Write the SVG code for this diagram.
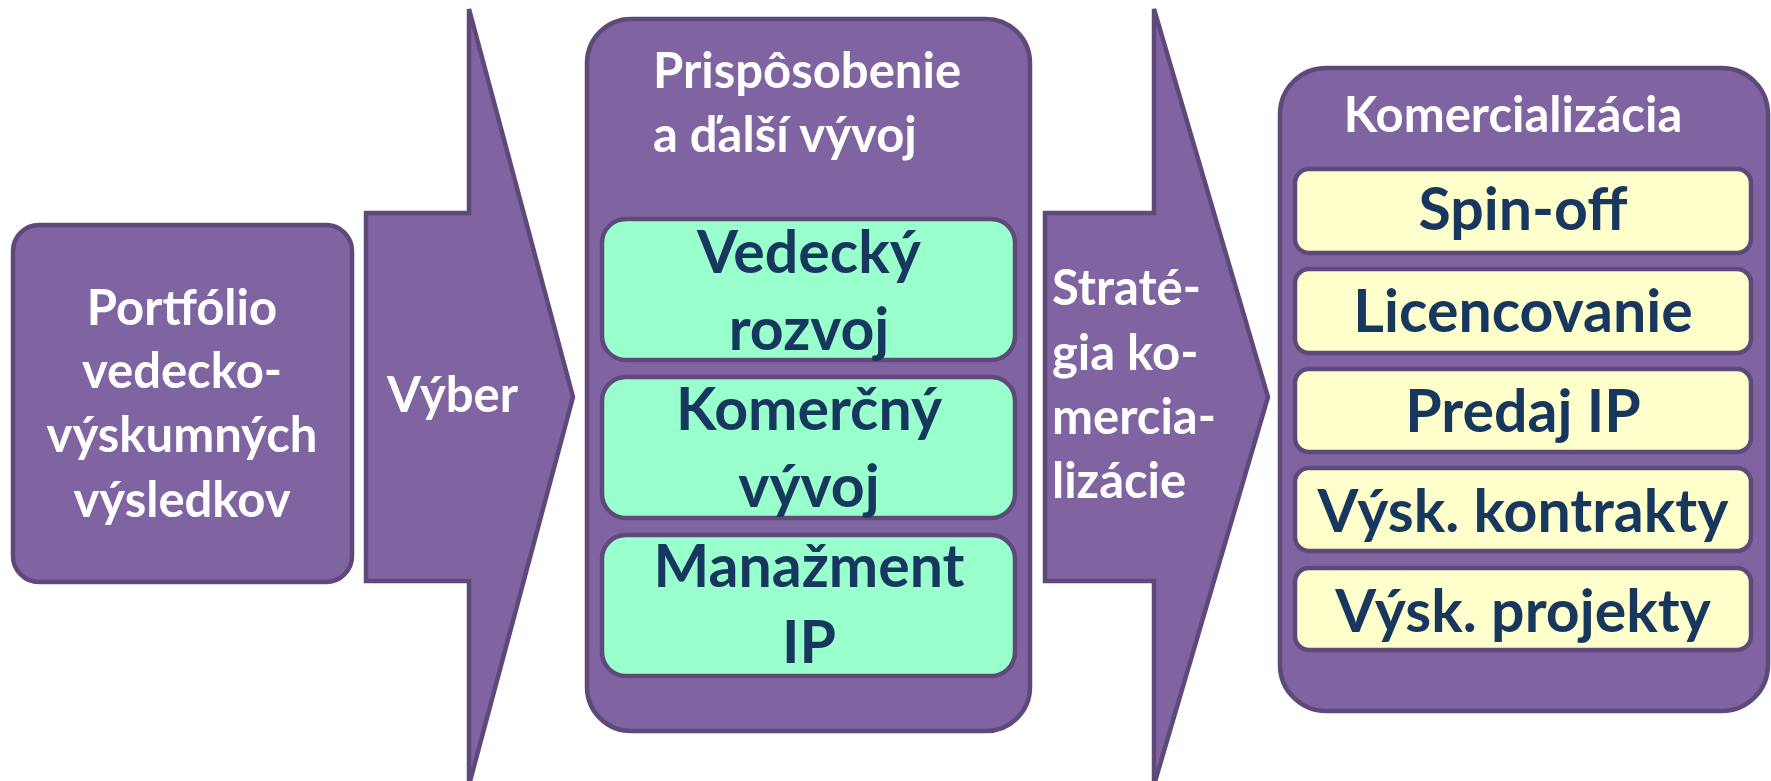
<svg xmlns="http://www.w3.org/2000/svg" width="1771" height="781" viewBox="0 0 1771 781">
  <style>
    .purple { fill: #8064A2; stroke: #5F497A; stroke-width: 4.5; stroke-linejoin: miter; }
    .green { fill: #99FFCC; stroke: #5F497A; stroke-width: 4.5; }
    .yellow { fill: #FFFFCC; stroke: #5F497A; stroke-width: 4.5; }
    .wt { font-family: Lato, "Open Sans", sans-serif; font-weight: 700; font-size: 49px; fill: #FFFFFF; }
    .dt { font-family: Lato, "Open Sans", sans-serif; font-weight: 700; font-size: 59px; fill: #17375E; text-anchor: middle; }
    .mid { text-anchor: middle; }
  </style>
  <rect width="1771" height="781" fill="#FFFFFF"/>

  <g id="connectors">
    <g id="arrow-vyber">
      <path class="purple" d="M366,213 H469 V9 L573,397 L469,785 V581 H366 Z"/>
      <text class="wt" x="387" y="412">Výber</text>
    </g>
    <g id="arrow-strategia">
      <path class="purple" d="M1045,213 H1154 V9 L1268,397 L1154,785 V581 H1045 Z"/>
      <text class="wt" x="1052" y="305">Straté-</text>
      <text class="wt" x="1052" y="370">gia ko-</text>
      <text class="wt" x="1052" y="434">mercia-</text>
      <text class="wt" x="1052" y="498">lizácie</text>
    </g>
  </g>

  <g id="portfolio">
    <rect class="purple" x="13" y="225" width="339" height="357" rx="26"/>
    <text class="wt mid" x="182" y="325">Portfólio</text>
    <text class="wt mid" x="182" y="388">vedecko-</text>
    <text class="wt mid" x="182" y="452">výskumných</text>
    <text class="wt mid" x="182" y="517">výsledkov</text>
  </g>

  <g id="prisposobenie">
    <rect class="purple" x="587" y="19" width="443" height="712" rx="44"/>
    <text class="wt" x="653" y="88">Prispôsobenie</text>
    <text class="wt" x="653" y="152">a ďalší vývoj</text>
  </g>
  <g id="vedecky-rozvoj">
    <rect class="green" x="602" y="219" width="413" height="141" rx="24"/>
    <text class="dt" x="809" y="273">Vedecký</text>
    <text class="dt" x="809" y="350">rozvoj</text>
  </g>
  <g id="komercny-vyvoj">
    <rect class="green" x="602" y="377" width="413" height="141" rx="24"/>
    <text class="dt" x="809" y="430">Komerčný</text>
    <text class="dt" x="809" y="507">vývoj</text>
  </g>
  <g id="manazment-ip">
    <rect class="green" x="602" y="535" width="413" height="141" rx="24"/>
    <text class="dt" x="809" y="587">Manažment</text>
    <text class="dt" x="809" y="663">IP</text>
  </g>

  <g id="komercializacia">
    <rect class="purple" x="1280" y="68" width="488" height="643" rx="46"/>
    <text class="wt mid" x="1513" y="132">Komercializácia</text>
  </g>
  <g id="spin-off">
    <rect class="yellow" x="1295" y="169" width="456" height="84" rx="14"/>
    <text class="dt" x="1523" y="230">Spin-off</text>
  </g>
  <g id="licencovanie">
    <rect class="yellow" x="1295" y="269" width="456" height="84" rx="14"/>
    <text class="dt" x="1523" y="332">Licencovanie</text>
  </g>
  <g id="predaj-ip">
    <rect class="yellow" x="1295" y="369" width="456" height="83" rx="14"/>
    <text class="dt" x="1523" y="432">Predaj IP</text>
  </g>
  <g id="vysk-kontrakty">
    <rect class="yellow" x="1295" y="468" width="456" height="83" rx="14"/>
    <text class="dt" x="1523" y="532">Výsk. kontrakty</text>
  </g>
  <g id="vysk-projekty">
    <rect class="yellow" x="1295" y="568" width="456" height="82" rx="14"/>
    <text class="dt" x="1523" y="632">Výsk. projekty</text>
  </g>
</svg>
